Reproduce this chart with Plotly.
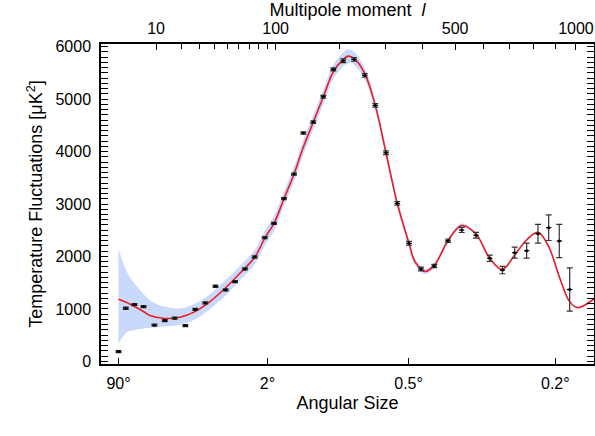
import plotly.graph_objects as go

# ---------------- data (multipole l, D_l in microK^2) ----------------
data_l = [2, 3, 4.5, 6.5, 9.5, 13, 17, 22, 27.4, 33.5, 40.6, 48.5, 56.5, 65.8, 75.7,
          86.9, 98, 110.9, 124.8, 138.6, 154.4, 171.3, 189.2, 208.2, 229.7, 252.5,
          276.4, 301.9, 330.2, 361.2, 394.7, 434, 476.8, 522, 571.9, 622.5, 671.6,
          720.8, 771.1, 820.5, 869, 918.6, 968.9]
data_D = [187, 1013, 1082, 1044, 690, 777, 823, 682, 990, 1114, 1432, 1362, 1520, 1762,
          1990, 2358, 2630, 3101, 3571, 4352, 4562, 5044, 5566, 5730, 5756, 5451, 4880,
          3977, 3013, 2251, 1762, 1819, 2301, 2505, 2404, 1966, 1740, 2072, 2110, 2434,
          2549, 2295, 1370]
data_err = [20, 20, 20, 20, 20, 20, 20, 20, 20, 20, 20, 20, 20, 20, 20, 20, 20, 20,
            20, 22, 25, 28, 30, 35, 35, 35, 35, 35, 35, 35, 35, 32, 32, 48, 54, 60,
            70, 105, 143, 178, 245, 317, 413]

model_l = [2, 3.2, 4.24, 6.5, 8.21, 12.4, 19.4, 27.2, 36.7, 48, 61, 76.1, 87.2, 98,
           110.9, 124.8, 138.6, 154.4, 171.3, 189.2, 208.2, 217.5, 229.7, 252.5, 276.4,
           301.9, 330.2, 361.2, 377.7, 406.3, 434, 476.8, 522, 571.9, 622.2, 670.8,
           720.8, 771.1, 820.5, 869, 918.6, 968.9, 1008.6, 1092.6]
model_D = [1185, 1120, 1060, 950, 875, 822, 842, 949, 1139, 1394, 1680, 1996, 2358,
           2630, 3101, 3571, 4080, 4562, 5044, 5520, 5756, 5819, 5775, 5490, 4880, 3977,
           3013, 2251, 1901, 1715, 1830, 2301, 2590, 2428, 1966, 1750, 2029, 2314, 2460,
           2187, 1615, 1139, 1025, 1190]

# cosmic-variance band edges, read at the same multipoles as the model curve
band_lo = [340, 560, 590, 625, 640, 665, 700, 800, 1000, 1240, 1540, 1860, 2215, 2490,
           2960, 3430, 3940, 4420, 4905, 5385, 5625, 5690, 5650, 5380, 4785, 3890, 2935,
           2185, 1840, 1665, 1785, 2262, 2552, 2400, 1944, 1731, 2010, 2297, 2445, 2174,
           1605, 1131, 1018, 1183]
band_hi = [2140, 1700, 1520, 1290, 1160, 1050, 1010, 1100, 1280, 1540, 1820, 2130, 2500,
           2770, 3240, 3710, 4220, 4700, 5180, 5655, 5890, 5950, 5900, 5600, 4975, 4065,
           3090, 2315, 1960, 1765, 1875, 2340, 2628, 2456, 1988, 1769, 2048, 2331, 2475,
           2200, 1625, 1147, 1032, 1197]

top_ticks = [10, 100, 500, 1000]
top_minor = [20, 30, 40, 50, 60, 70, 80, 90, 200, 300, 400, 600, 700, 800, 900]
bottom_tick_l = [2, 90, 360, 900]
bottom_tick_text = ["90°", "2°", "0.5°", "0.2°"]

P = 0.4  # axis scale: position proportional to l**0.4
def T(v):
    return [x ** P for x in v]

X_RANGE = [0.51 ** P, 1093 ** P]
FONT = "Liberation Sans, Arial, Helvetica, sans-serif"

fig = go.Figure()
fig.add_trace(go.Scatter(x=T(model_l), y=band_lo, mode="lines", line=dict(width=0, shape="spline"),
                         showlegend=False, hoverinfo="skip"))
fig.add_trace(go.Scatter(x=T(model_l), y=band_hi, mode="lines", line=dict(width=0, shape="spline"),
                         fill="tonexty", fillcolor="#c9d9fb", showlegend=False, hoverinfo="skip"))
fig.add_trace(go.Scatter(x=T(model_l), y=model_D, mode="lines",
                         line=dict(color="#ec1c24", width=1.6, shape="spline", smoothing=1.0),
                         showlegend=False))
fig.add_trace(go.Scatter(x=T(data_l), y=data_D, mode="markers",
                         marker=dict(color="black", size=3),
                         error_y=dict(type="data", array=data_err, color="#333333", thickness=1.2, width=3),
                         error_x=dict(type="constant", value=0.085, color="black", thickness=1.2, width=0),
                         showlegend=False))
fig.add_trace(go.Scatter(x=[None], y=[None], xaxis="x2", showlegend=False, hoverinfo="skip"))

axis_common = dict(showgrid=False, zeroline=False, showline=True, linecolor="black", linewidth=1.5,
                   ticks="inside", tickcolor="black", tickwidth=1.2, automargin=False,
                   tickfont=dict(family=FONT, size=16, color="black"))

fig.update_layout(
    width=595, height=436,
    margin=dict(l=101, r=1, t=44, b=72),
    plot_bgcolor="white", paper_bgcolor="white",
    font=dict(family=FONT, color="black"),
    xaxis=dict(range=X_RANGE, tickmode="array", tickvals=T(bottom_tick_l), ticktext=bottom_tick_text,
               ticklen=6, ticklabelstandoff=4,
               title=dict(text="Angular Size", font=dict(size=18, family=FONT), standoff=5),
               **axis_common),
    xaxis2=dict(range=X_RANGE, overlaying="x", side="top", anchor="y", tickmode="array",
                tickvals=T(top_ticks), ticktext=[str(t) for t in top_ticks], ticklen=6,
                ticklabelstandoff=2,
                minor=dict(tickmode="array", tickvals=T(top_minor), ticks="inside", ticklen=5,
                           tickcolor="black", tickwidth=1.2),
                title=dict(text="Multipole moment  <i>l</i>", font=dict(size=18, family=FONT), standoff=2),
                **axis_common),
    yaxis=dict(range=[-50, 6050], tickmode="linear", tick0=0, dtick=1000, ticklen=7, mirror="allticks",
               ticklabelstandoff=5,
               minor=dict(dtick=100, ticks="inside", ticklen=4, tickcolor="black", tickwidth=1),
               title=dict(text="Temperature Fluctuations [μK<sup>2</sup>]", font=dict(size=18, family=FONT),
                          standoff=8),
               **axis_common),
)

fig.write_html("out.html", config={"displayModeBar": False},
               post_script="document.body.style.margin='0';")
